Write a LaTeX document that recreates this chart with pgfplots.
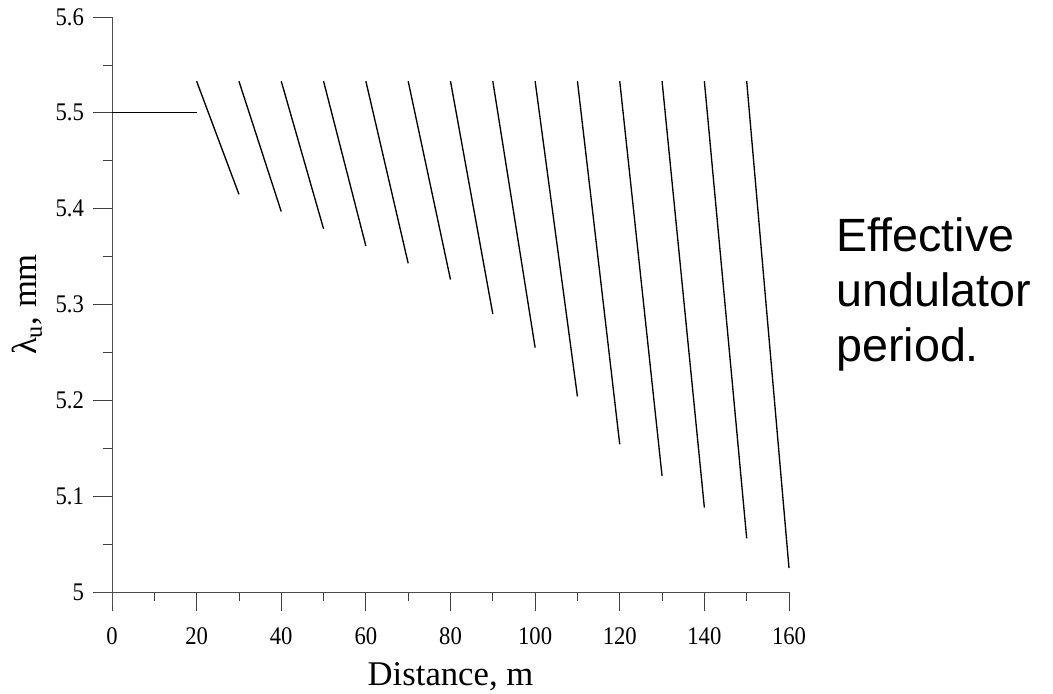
\documentclass[border=0pt]{standalone}
\usepackage{pgfplots}
\pgfplotsset{compat=1.18}
\usepackage{graphicx}
\usepackage{fontspec}
\setmainfont{Liberation Serif}
\newfontfamily\arialfont{Liberation Sans}
\begin{document}
\begin{tikzpicture}
\useasboundingbox (-84pt,-75.75pt) rectangle (705.75pt,444pt);
\begin{axis}[
  scale only axis,
  width=507.75pt, height=431.25pt,
  xmin=0, xmax=160, ymin=5, ymax=5.6,
  axis x line=bottom, axis y line=left,
  axis line style={-, black!70, line width=0.6pt},
  x axis line style={shorten <=-12.75pt},
  y axis line style={shorten <=-10.5pt},
  xtick={0,20,...,160}, ytick={5,5.1,5.2,5.3,5.4,5.5,5.6},
  minor x tick num=1, minor y tick num=1,
  tick align=outside,
  major tick length=14.5pt, minor tick length=7pt,
  tick style={black!75, line width=0.6pt},
  /pgf/number format/assume math mode=true,
  tick label style={font=\fontsize{17}{20}\selectfont},
  xticklabel={\scalebox{1}[1.12]{\pgfmathprintnumber{\tick}}},
  yticklabel={\scalebox{1}[1.12]{\pgfmathprintnumber{\tick}}},
  xticklabel style={yshift=-9pt},
  yticklabel style={xshift=-3pt},
  every axis x label/.style={at={(axis description cs:0.5,0)}, yshift=-69.75pt, anchor=base},
  every axis y label/.style={at={(axis description cs:0,0.5)}, xshift=-56.25pt, rotate=90, anchor=base},
  label style={font=\fontsize{26}{30}\selectfont},
  xlabel={Distance, m},
  ylabel={λ\textsubscript{u}, mm},
  clip=false,
]
\addplot[black, line width=1pt] coordinates {(0,5.5) (10,5.5) (20,5.5)};
\addplot[black, line width=1pt] coordinates {(20,5.533) (30,5.415)};
\addplot[black, line width=1pt] coordinates {(30,5.533) (40,5.397)};
\addplot[black, line width=1pt] coordinates {(40,5.533) (50,5.379)};
\addplot[black, line width=1pt] coordinates {(50,5.533) (60,5.361)};
\addplot[black, line width=1pt] coordinates {(60,5.533) (70,5.343)};
\addplot[black, line width=1pt] coordinates {(70,5.533) (80,5.326)};
\addplot[black, line width=1pt] coordinates {(80,5.533) (90,5.290)};
\addplot[black, line width=1pt] coordinates {(90,5.533) (100,5.255)};
\addplot[black, line width=1pt] coordinates {(100,5.533) (110,5.204)};
\addplot[black, line width=1pt] coordinates {(110,5.533) (120,5.154)};
\addplot[black, line width=1pt] coordinates {(120,5.533) (130,5.121)};
\addplot[black, line width=1pt] coordinates {(130,5.533) (140,5.088)};
\addplot[black, line width=1pt] coordinates {(140,5.533) (150,5.056)};
\addplot[black, line width=1pt] coordinates {(150,5.533) (160,5.025)};
\end{axis}
\node[anchor=base west, inner sep=0pt, font=\arialfont\fontsize{35}{41}\selectfont] at (543pt,255pt) {Effective};
\node[anchor=base west, inner sep=0pt, font=\arialfont\fontsize{35}{41}\selectfont] at (543pt,213.75pt) {undulator};
\node[anchor=base west, inner sep=0pt, font=\arialfont\fontsize{35}{41}\selectfont] at (543pt,172.5pt) {period.};
\end{tikzpicture}
\end{document}
